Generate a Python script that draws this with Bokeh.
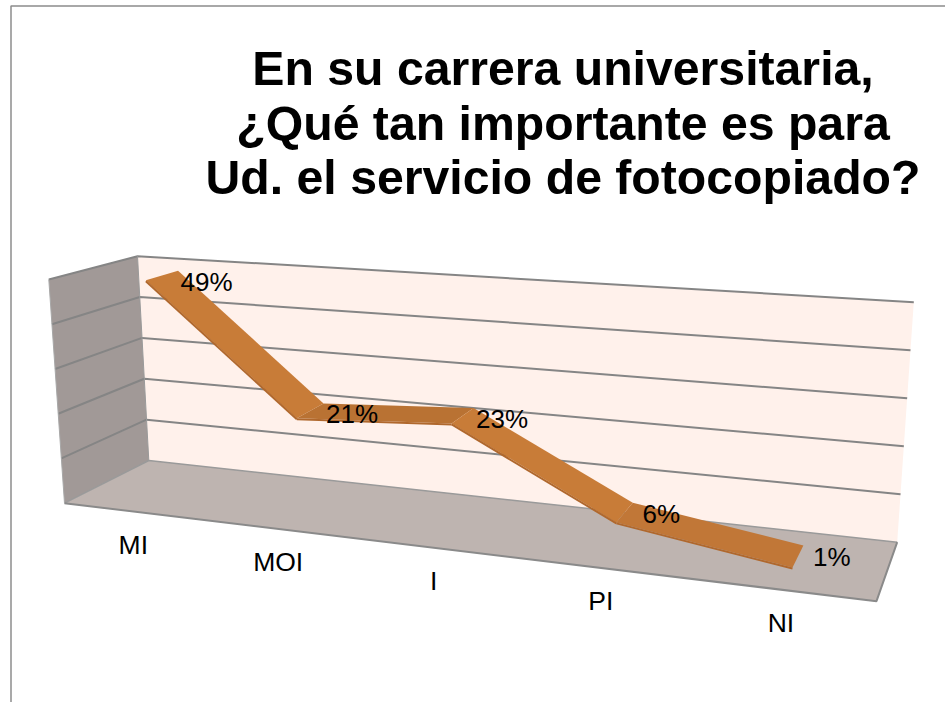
from bokeh.plotting import figure
from bokeh.models import Range1d, ColumnDataSource
from bokeh.core.properties import value
from bokeh.embed import file_html
from bokeh.resources import INLINE

title_lines = ["En su carrera universitaria,", "¿Qué tan importante es para", "Ud. el servicio de fotocopiado?"]
categories = ["MI", "MOI", "I", "PI", "NI"]
percents = [49, 21, 23, 6, 1]
grid_levels = [0, 10, 20, 30, 40, 50]
axis_max = 50

# cube corners on the page: (x, y)
FBL, BBL, BBR, FBR = (64, 502.7), (148.3, 460), (896.7, 541.7), (876, 600.7)
FTL, BTL, BTR, FTR = (48.3, 279), (137, 255.7), (913.3, 301.7), (893, 334)
W = 1.2
D0, D1 = 0.27, 0.66
U_SHIFT = 0.004
LIFT = 2


def lerp(a, b, t):
    return (a[0] + (b[0] - a[0]) * t, a[1] + (b[1] - a[1]) * t)


def warp(u):
    return u / (u + W * (1 - u))


def proj(u, v, d):
    t = warp(u)
    front = lerp(lerp(FBL, FBR, t), lerp(FTL, FTR, t), v)
    back = lerp(lerp(BBL, BBR, t), lerp(BTL, BTR, t), v)
    return lerp(front, back, d)


def poly(p, pts, **kw):
    p.patch([q[0] for q in pts], [q[1] for q in pts], **kw)


p = figure(width=945, height=702, output_backend="svg", toolbar_location=None,
           x_range=Range1d(0, 945), y_range=Range1d(702, 0),
           min_border=0, margin=0, outline_line_color=None)
p.axis.visible = False
p.grid.visible = False

# slide frame
p.line([10.5, 10.5, 945], [702, 5.5, 5.5], line_color="#8c8c8c", line_width=1.5)

# walls
poly(p, [BBL, BBR, BTR, BTL], fill_color="#FFF1EB", line_color=None)
poly(p, [FBL, BBL, BTL, FTL], fill_color="#A19997", line_color=None)
poly(p, [FBL, FBR, BBR, BBL], fill_color="#BEB4B0", line_color=None)

# gridlines
for g in grid_levels:
    v = g / axis_max
    a, b, c = proj(0, v, 0), proj(0, v, 1), proj(1, v, 1)
    if g == 0:
        col = "#8a8a8a"
        p.line([a[0], b[0], c[0]], [a[1], b[1], c[1]], line_color="#9a9a9a", line_width=1.5)
        e, f = proj(0, 0, 0), proj(1, 0, 0)
        h = proj(1, 0, 1)
        p.line([e[0], f[0], h[0]], [e[1], f[1], h[1]], line_color=col, line_width=2)
    else:
        p.line([a[0], b[0], c[0]], [a[1], b[1], c[1]], line_color="#858585", line_width=2)
top_edge = (proj(0, 0, 1), proj(0, 1, 1))
p.line([top_edge[0][0], top_edge[1][0]], [top_edge[0][1], top_edge[1][1]], line_color="#9a9a9a", line_width=1)
edge = (proj(0, 0, 0), proj(0, 1, 0))
p.line([edge[0][0], edge[1][0]], [edge[0][1], edge[1][1]], line_color="#a8a8a8", line_width=1)

# ribbon
n = len(categories)
us = [(i + 0.5) / n for i in range(n)]
vs = [x / axis_max for x in percents]
fr = [proj(u + U_SHIFT, v, D0) for u, v in zip(us, vs)]
bk = [proj(u + U_SHIFT, v, D1) for u, v in zip(us, vs)]
fr = [(q[0], q[1] - LIFT) for q in fr]
bk = [(q[0], q[1] - LIFT) for q in bk]
for i in range(n - 1):
    rising = vs[i + 1] > vs[i]
    col = "#B97233" if rising else "#C87C38"
    if i == 3:
        col = "#C17737"
    poly(p, [fr[i], fr[i + 1], bk[i + 1], bk[i]], fill_color=col, line_color=None)
    p.line([fr[i][0], fr[i + 1][0]], [fr[i][1] + 1, fr[i + 1][1] + 1], line_color="#B0682D", line_width=2)

# data labels
src = ColumnDataSource(dict(x=[q[0] + 28.5 for q in bk], y=[q[1] + 11 for q in bk], t=[f"{x}%" for x in percents]))
p.text("x", "y", "t", source=src, text_font=value("Liberation Sans"), text_font_size="26px",
       text_align="center", text_baseline="middle", text_color="#000000")

# category labels
ft = [proj(u, 0, 0) for u in us]
src2 = ColumnDataSource(dict(x=[q[0] for q in ft], y=[q[1] + 33 for q in ft], t=categories))
p.text("x", "y", "t", source=src2, text_font=value("Liberation Sans"), text_font_size="26.5px",
       text_align="center", text_baseline="middle", text_color="#000000")

# title
src3 = ColumnDataSource(dict(x=[562.5] * 3, y=[67, 122, 176], t=title_lines))
p.text("x", "y", "t", source=src3, text_font=value("Liberation Sans"), text_font_size="48.2px",
       text_font_style="bold", text_align="center", text_baseline="middle", text_color="#000000")

open("out.html", "w").write(file_html(p, INLINE))
